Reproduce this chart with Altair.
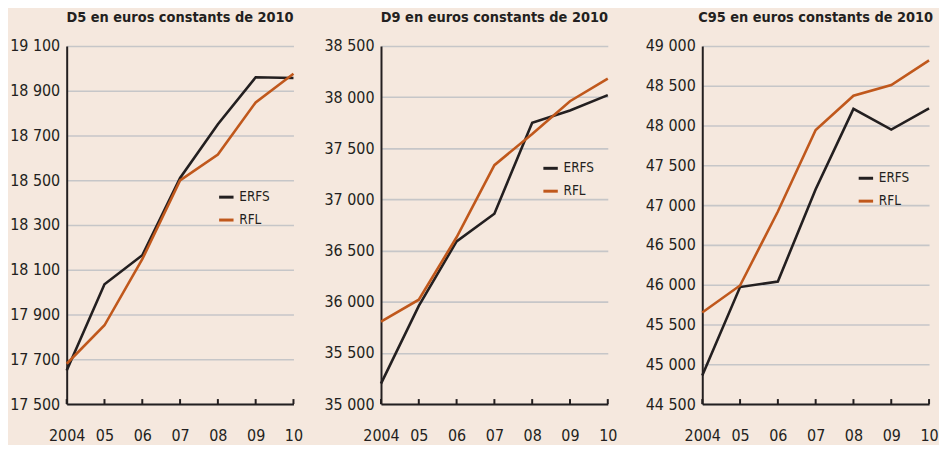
import altair as alt
import pandas as pd

# ---- data -------------------------------------------------------------
year_labels = ["2004", "05", "06", "07", "08", "09", "10"]
series_names = ["ERFS", "RFL"]

d5_erfs = [17650, 18035, 18165, 18510, 18750, 18960, 18957]
d5_rfl = [17680, 17852, 18147, 18499, 18615, 18848, 18976]

d9_erfs = [35200, 35960, 36590, 36860, 37750, 37870, 38020]
d9_rfl = [35805, 36020, 36630, 37335, 37640, 37960, 38180]

c95_erfs = [44860, 45970, 46040, 47200, 48210, 47950, 48215]
c95_rfl = [45650, 45990, 46920, 47945, 48375, 48510, 48820]

d5_ticks = [17500, 17700, 17900, 18100, 18300, 18500, 18700, 18900, 19100]
d9_ticks = [35000, 35500, 36000, 36500, 37000, 37500, 38000, 38500]
c95_ticks = [44500, 45000, 45500, 46000, 46500, 47000, 47500, 48000, 48500, 49000]

titles = [
    "D5 en euros constants de 2010",
    "D9 en euros constants de 2010",
    "C95 en euros constants de 2010",
]

# ---- style ------------------------------------------------------------
FONT = "DejaVu Sans Condensed"
DARK = "#231f20"
ORANGE = "#c0581c"
BG = "#f5e8de"
GRID = "#c6c6c8"
W, H = 228, 360


def panel(title, erfs, rfl, yticks, lx, ly, extent):
    df = pd.DataFrame({
        "annee": year_labels * 2,
        "serie": [series_names[0]] * len(erfs) + [series_names[1]] * len(rfl),
        "valeur": erfs + rfl,
    })
    x_axis = alt.Axis(
        title=None, labelAngle=0, ticks=False, grid=False,
        domainColor=DARK, domainWidth=2,
        labelFont=FONT, labelFontSize=16, labelColor=DARK,
        labelPadding=24, labelOverlap=False, labelFlush=False,
    )
    y_axis = alt.Axis(
        title=None, values=yticks, ticks=False,
        labelExpr="replace(format(datum.value, ','), ',', ' ')",
        domainColor=DARK, domainWidth=2,
        gridColor=GRID, gridWidth=1.6,
        labelFont=FONT, labelFontSize=16, labelColor=DARK,
        labelPadding=7, labelFlush=False, labelOverlap=False,
        minExtent=extent, maxExtent=extent,
    )
    x = alt.X("annee:O", sort=year_labels,
              scale=alt.Scale(type="point", padding=0), axis=x_axis)
    y = alt.Y("valeur:Q",
              scale=alt.Scale(domain=[yticks[0], yticks[-1]], nice=False, zero=False),
              axis=y_axis)
    lines = alt.Chart(df).mark_line(strokeWidth=2.6).encode(
        x=x, y=y,
        color=alt.Color(
            "serie:N",
            scale=alt.Scale(domain=series_names, range=[DARK, ORANGE]),
            legend=alt.Legend(
                title=None, orient="none", legendX=lx, legendY=ly,
                symbolType="stroke", symbolStrokeWidth=3, symbolSize=210,
                labelFont=FONT, labelFontSize=13.5, labelColor=DARK,
                labelOffset=4, rowPadding=7, padding=0,
            ),
        ),
    )
    ticks = alt.Chart(pd.DataFrame({"annee": year_labels})).mark_rule(
        color=DARK, strokeWidth=2
    ).encode(
        x=alt.X("annee:O", sort=year_labels),
        y=alt.value(H),
        y2=alt.value(H - 5),
    )
    return alt.layer(lines, ticks).properties(
        width=W, height=H,
        title=alt.TitleParams(
            text=title, font=FONT, fontSize=14.5, fontWeight="bold",
            color=DARK, anchor="middle", frame="group", offset=13,
        ),
    )


p1 = panel(titles[0], d5_erfs, d5_rfl, d5_ticks, 151.5, 143, 59)
p2 = panel(titles[1], d9_erfs, d9_rfl, d9_ticks, 161.5, 114, 68)
p3 = panel(titles[2], c95_erfs, c95_rfl, c95_ticks, 155.5, 124, 75)

chart = (
    alt.hconcat(p1, p2, p3, spacing=10)
    .resolve_scale(color="independent", x="independent", y="independent")
    .resolve_legend(color="independent")
    .properties(background=BG, padding={"left": 0, "top": 0, "right": 0, "bottom": 0})
    .configure_view(stroke=None)
)

chart.save("out.html", embed_options={"renderer": "svg", "actions": False})
